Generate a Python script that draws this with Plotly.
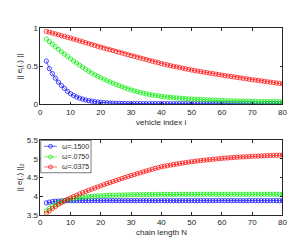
import plotly.graph_objects as go

# ---------------- data ----------------
idx = list(range(2, 81))  # vehicle index i / chain length N

top_blue = [0.570, 0.470, 0.405, 0.345, 0.293, 0.248, 0.210, 0.170, 0.140, 0.117,
            0.098, 0.082, 0.069, 0.058, 0.049, 0.042, 0.036, 0.031, 0.027, 0.023,
            0.020, 0.018, 0.016, 0.014, 0.013, 0.012, 0.011, 0.010, 0.010, 0.010,
            0.010, 0.010, 0.010, 0.010, 0.010, 0.010, 0.010, 0.010, 0.010, 0.009,
            0.009, 0.009, 0.009, 0.009, 0.009, 0.009, 0.009, 0.009, 0.009, 0.009,
            0.009, 0.009, 0.009, 0.009, 0.009, 0.009, 0.009, 0.009, 0.008, 0.008,
            0.008, 0.008, 0.008, 0.008, 0.008, 0.008, 0.008, 0.008, 0.008, 0.008,
            0.008, 0.008, 0.008, 0.008, 0.008, 0.008, 0.008, 0.008, 0.008]

top_green = [0.860, 0.825, 0.791, 0.758, 0.725, 0.693, 0.661, 0.630, 0.600, 0.571,
             0.543, 0.515, 0.488, 0.462, 0.437, 0.413, 0.390, 0.369, 0.350, 0.331,
             0.313, 0.296, 0.279, 0.263, 0.248, 0.233, 0.218, 0.204, 0.190, 0.179,
             0.168, 0.158, 0.148, 0.139, 0.131, 0.124, 0.117, 0.111, 0.105, 0.100,
             0.096, 0.092, 0.088, 0.085, 0.082, 0.079, 0.076, 0.073, 0.070, 0.068,
             0.066, 0.064, 0.062, 0.060, 0.058, 0.056, 0.054, 0.052, 0.050, 0.049,
             0.048, 0.047, 0.046, 0.045, 0.044, 0.043, 0.042, 0.041, 0.040, 0.040,
             0.039, 0.039, 0.038, 0.038, 0.037, 0.037, 0.036, 0.036, 0.035]

top_red = [0.960, 0.949, 0.938, 0.927, 0.916, 0.905, 0.894, 0.883, 0.872, 0.860,
           0.848, 0.836, 0.824, 0.812, 0.800, 0.788, 0.776, 0.764, 0.752, 0.741,
           0.730, 0.719, 0.708, 0.697, 0.686, 0.675, 0.664, 0.653, 0.642, 0.632,
           0.621, 0.611, 0.600, 0.590, 0.579, 0.569, 0.558, 0.548, 0.537, 0.528,
           0.519, 0.510, 0.501, 0.493, 0.485, 0.476, 0.468, 0.460, 0.452, 0.445,
           0.438, 0.431, 0.425, 0.418, 0.411, 0.405, 0.398, 0.392, 0.385, 0.379,
           0.373, 0.367, 0.361, 0.355, 0.349, 0.343, 0.337, 0.331, 0.325, 0.320,
           0.314, 0.309, 0.303, 0.298, 0.292, 0.287, 0.281, 0.276, 0.270]

bot_blue = [3.825, 3.845, 3.860, 3.868, 3.874, 3.878, 3.881, 3.883, 3.884, 3.885,
            3.885, 3.885, 3.885, 3.885, 3.885, 3.885, 3.885, 3.885, 3.885, 3.885,
            3.885, 3.885, 3.885, 3.885, 3.885, 3.885, 3.885, 3.885, 3.885, 3.885,
            3.885, 3.885, 3.885, 3.885, 3.885, 3.885, 3.885, 3.885, 3.885, 3.885,
            3.885, 3.885, 3.885, 3.885, 3.885, 3.885, 3.885, 3.885, 3.885, 3.885,
            3.885, 3.885, 3.885, 3.885, 3.885, 3.885, 3.885, 3.885, 3.885, 3.885,
            3.885, 3.885, 3.885, 3.885, 3.885, 3.885, 3.885, 3.885, 3.885, 3.885,
            3.885, 3.885, 3.885, 3.885, 3.885, 3.885, 3.885, 3.885, 3.885]

bot_green = [3.610, 3.680, 3.735, 3.780, 3.820, 3.855, 3.885, 3.910, 3.930, 3.945,
             3.958, 3.969, 3.978, 3.986, 3.993, 3.999, 4.005, 4.010, 4.015, 4.019,
             4.023, 4.026, 4.029, 4.032, 4.034, 4.036, 4.038, 4.040, 4.042, 4.043,
             4.044, 4.045, 4.046, 4.047, 4.048, 4.049, 4.050, 4.050, 4.051, 4.051,
             4.052, 4.052, 4.052, 4.053, 4.053, 4.053, 4.053, 4.054, 4.054, 4.054,
             4.054, 4.054, 4.054, 4.055, 4.055, 4.055, 4.055, 4.055, 4.055, 4.055,
             4.055, 4.055, 4.055, 4.055, 4.055, 4.055, 4.055, 4.055, 4.055, 4.055,
             4.055, 4.055, 4.055, 4.055, 4.055, 4.055, 4.055, 4.055, 4.055]

bot_red = [3.550, 3.615, 3.675, 3.730, 3.782, 3.830, 3.875, 3.918, 3.958, 3.995,
           4.030, 4.064, 4.097, 4.129, 4.160, 4.191, 4.221, 4.251, 4.280, 4.309,
           4.338, 4.366, 4.394, 4.422, 4.449, 4.476, 4.502, 4.528, 4.553, 4.578,
           4.603, 4.627, 4.651, 4.675, 4.698, 4.721, 4.744, 4.766, 4.788, 4.803,
           4.818, 4.832, 4.846, 4.860, 4.873, 4.886, 4.898, 4.910, 4.922, 4.932,
           4.942, 4.952, 4.961, 4.970, 4.979, 4.987, 4.995, 5.003, 5.010, 5.017,
           5.023, 5.029, 5.035, 5.041, 5.046, 5.051, 5.056, 5.061, 5.065, 5.069,
           5.073, 5.077, 5.081, 5.084, 5.087, 5.090, 5.093, 5.096, 5.099]

legend_names = ["ω=.1500", "ω=.0750", "ω=.0375"]
colors = ["#0000ff", "#00ee00", "#ff0000"]

x_ticks = [0, 10, 20, 30, 40, 50, 60, 70, 80]
top_yticks = [0, 0.5, 1]
bot_yticks = [3.5, 4, 4.5, 5, 5.5]

# ---------------- figure ----------------
W, H = 299, 240
FONT = "Liberation Sans, Arial, sans-serif"
TXT = "#262626"


def px(x):
    return x / W


def py(y):
    return 1 - y / H


fig = go.Figure()

for ys, c in zip([top_blue, top_green, top_red], colors):
    fig.add_trace(go.Scatter(x=idx, y=ys, mode="lines+markers", xaxis="x", yaxis="y",
                             line=dict(color=c, width=0.6),
                             marker=dict(symbol="circle-open", size=4.3,
                                         line=dict(color=c, width=0.7)),
                             showlegend=False))

for ys, c, nm in zip([bot_blue, bot_green, bot_red], colors, legend_names):
    fig.add_trace(go.Scatter(x=idx, y=ys, mode="lines+markers", xaxis="x2", yaxis="y2",
                             name=nm,
                             line=dict(color=c, width=0.6),
                             marker=dict(symbol="circle-open", size=4.3,
                                         line=dict(color=c, width=0.7)),
                             showlegend=False))

xdom = [px(31), px(279)]
top_dom = [py(96), py(17)]
bot_dom = [py(211), py(133)]

axcommon = dict(showline=True, linecolor=TXT, linewidth=0.6, mirror="allticks",
                ticks="inside", ticklen=3, tickwidth=0.6, tickcolor=TXT,
                showgrid=False, zeroline=False,
                tickfont=dict(family=FONT, size=8, color=TXT))

fig.update_layout(
    width=W, height=H,
    margin=dict(l=0, r=0, t=0, b=0),
    paper_bgcolor="white", plot_bgcolor="white",
    font=dict(family=FONT, size=8, color=TXT),
    showlegend=False,
    xaxis=dict(domain=xdom, anchor="y", range=[0, 80], tickvals=x_ticks, **axcommon),
    yaxis=dict(domain=top_dom, anchor="x", range=[0, 1], tickvals=top_yticks,
               ticktext=["0", "0.5", "1"], **axcommon),
    xaxis2=dict(domain=xdom, anchor="y2", range=[0, 80], tickvals=x_ticks, **axcommon),
    yaxis2=dict(domain=bot_dom, anchor="x2", range=[3.5, 5.5], tickvals=bot_yticks,
                ticktext=["3.5", "4", "4.5", "5", "5.5"], **axcommon),
)

# axis titles as annotations (precise placement)
titles = [
    ("vehicle index i", 155, 115, 0),
    ("chain length N", 155, 229, 0),
    ("|| e<sub>i</sub>(.) ||", 10, 57, -90),
    ("|| e(.) ||<sub>2</sub>", 10, 172, -90),
]
for t, x, y, ang in titles:
    fig.add_annotation(text=t, x=px(x), y=py(y), xref="paper", yref="paper",
                       showarrow=False, textangle=ang, xanchor="center", yanchor="middle",
                       font=dict(family=FONT, size=8, color=TXT))

# compact legend box (MATLAB style), drawn in paper coordinates
fig.add_shape(type="rect", xref="paper", yref="paper",
              x0=px(31.5), x1=px(83), y0=py(167), y1=py(133.5),
              line=dict(color=TXT, width=0.6), fillcolor="white", layer="above")
row_y = [139.5, 150.5, 161]
for nm, c, ry in zip(legend_names, colors, row_y):
    fig.add_shape(type="line", xref="paper", yref="paper",
                  x0=px(35), x1=px(48), y0=py(ry), y1=py(ry),
                  line=dict(color=c, width=0.6), layer="above")
    fig.add_shape(type="circle", xref="paper", yref="paper",
                  x0=px(39.5), x1=px(43.5), y0=py(ry + 2), y1=py(ry - 2),
                  line=dict(color=c, width=0.7), layer="above")
    fig.add_annotation(text=nm, x=px(51), y=py(ry), xref="paper", yref="paper",
                       showarrow=False, xanchor="left", yanchor="middle",
                       font=dict(family=FONT, size=7, color=TXT))

fig.write_html("out.html")
